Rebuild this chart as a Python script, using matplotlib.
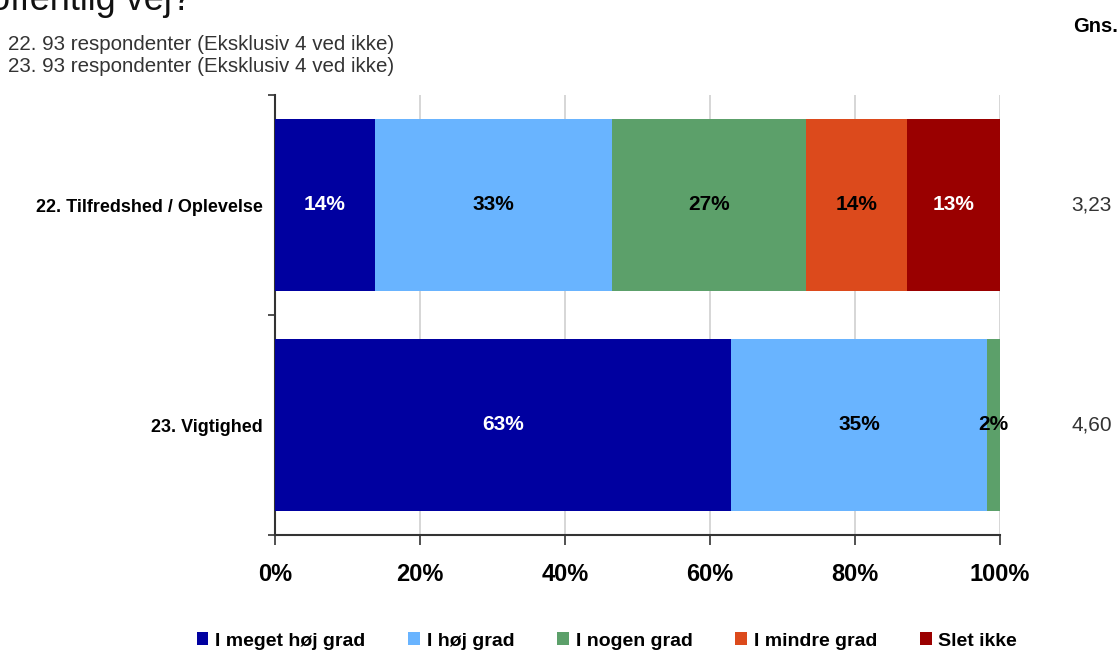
import matplotlib
matplotlib.use("Agg")
import matplotlib.pyplot as plt
from matplotlib.patches import Patch
import numpy as np

plt.rcParams['font.family'] = ['Liberation Sans', 'DejaVu Sans']

categories = ["22. Tilfredshed / Oplevelse", "23. Vigtighed"]
series = ["I meget høj grad", "I høj grad", "I nogen grad", "I mindre grad", "Slet ikke"]
values = {
    "I meget høj grad": [13.8, 62.9],
    "I høj grad": [32.7, 35.3],
    "I nogen grad": [26.7, 1.8],
    "I mindre grad": [14.0, 0.0],
    "Slet ikke": [12.8, 0.0],
}
means = ["3,23", "4,60"]
subtitles = ["22. 93 respondenter (Eksklusiv 4 ved ikke)",
             "23. 93 respondenter (Eksklusiv 4 ved ikke)"]
colors = ["#0000A0", "#69B4FF", "#5CA06A", "#DC4A1C", "#9A0000"]
text_colors = ["white", "black", "black", "black", "white"]

fig = plt.figure(figsize=(11.2, 6.52), dpi=100)
ax = fig.add_axes([275/1120, 1-535/652, 725/1120, 440/652])

y = np.arange(len(categories))
left = np.zeros(len(categories))
for s, c, tc in zip(series, colors, text_colors):
    v = np.array(values[s])
    ax.barh(y, v, left=left, height=0.78, color=c, edgecolor='none', zorder=3)
    for yi, (l, vi) in enumerate(zip(left, v)):
        if vi > 0:
            ax.text(l + vi/2, yi, f"{vi:.0f}%", ha='center', va='center',
                    color=tc, fontsize=15, fontweight='bold', zorder=4)
    left += v

ax.set_xlim(0, 100)
ax.set_ylim(1.5, -0.5)
ax.set_xticks(np.arange(0, 101, 20))
ax.set_xticklabels([f"{t}%" for t in range(0, 101, 20)], fontsize=17, fontweight='bold')
ax.set_yticks(y)
ax.set_yticklabels(categories, fontsize=13, fontweight='bold')
ax.set_yticks([-0.5, 0.5, 1.5], minor=True)
ax.tick_params(axis='y', which='major', length=0, pad=9)
ax.tick_params(axis='y', which='minor', length=5, width=1.2, direction='out', color='#333333')
ax.tick_params(axis='x', which='major', length=7, width=1.2, direction='out', color='#333333', pad=13)
ax.grid(axis='x', color='#D0D0D0', linewidth=1.2, zorder=0)
for sp in ['top', 'right']:
    ax.spines[sp].set_visible(False)
for sp in ['left', 'bottom']:
    ax.spines[sp].set_color('#333333')
    ax.spines[sp].set_linewidth(1.5)

# title (cut off at top of the image)
fig.text(-10/1120, 1-10/652, "offentlig vej?", fontsize=26, color='#111111',
         ha='left', va='baseline')
for i, s in enumerate(subtitles):
    fig.text(8/1120, 1-(44+22*i)/652, s, fontsize=14.8, color='#333333',
             ha='left', va='center')

fig.text(1118/1120, 1-27/652, "Gns.", fontsize=14.5, fontweight='bold', ha='right', va='center')
for yi, m in enumerate(means):
    yd = ax.transData.transform((0, yi))[1]
    fig.text(1112/1120, yd/fig.dpi/6.52, m, fontsize=15, color='#333333', ha='right', va='center')

handles = [Patch(facecolor=c, edgecolor='none') for c in colors]
fig.legend(handles, series, loc='center', bbox_to_anchor=(607/1120, 1-641/652), ncol=5,
           frameon=False, prop={'weight': 'bold', 'size': 14}, handlelength=0.6,
           handleheight=0.65, handletextpad=0.35, columnspacing=2.2,
           borderaxespad=0, borderpad=0)

fig.savefig("out.png", dpi=100)
